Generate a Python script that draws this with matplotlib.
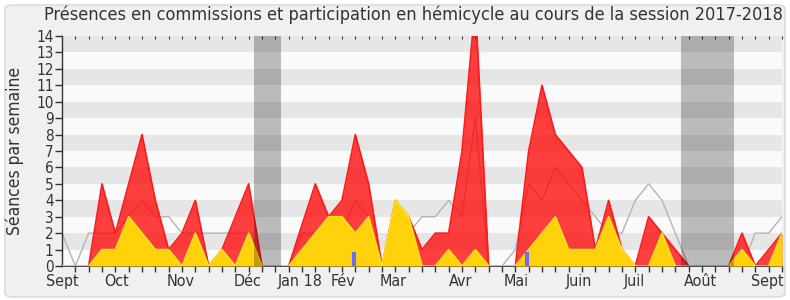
import matplotlib
matplotlib.use("Agg")
import matplotlib.pyplot as plt
from matplotlib.patches import FancyBboxPatch
import numpy as np

plt.rcParams["font.family"] = ["DejaVu Sans"]
plt.rcParams["font.stretch"] = "condensed"

# weekly values (index = week of the session)
presence_total = [0, 0, 0, 5, 2, 5, 8, 4, 1, 2, 4, 0, 1, 3, 5, 0, 0, 0, 2.5, 5,
                  3, 4, 8, 5, 0, 4, 3, 1, 2, 2, 7, 16, 0, 0, 0, 7, 11, 8, 7, 6,
                  1, 4, 1, 0, 3, 2, 1, 0, 0, 0, 0, 2, 0, 1, 2]
hemicycle = [0, 0, 0, 1, 1, 3, 2, 1, 1, 0, 2, 0, 1, 0, 2, 0, 0, 0, 1, 2,
             3, 3, 2, 3, 0, 4, 3, 0, 0, 1, 0, 1, 0, 0, 0, 1, 2, 3, 1, 1,
             1, 3, 1, 0, 0, 2, 0, 0, 0, 0, 0, 1, 0, 0, 2]
median_line = [2, 0, 2, 2, 2, 3, 4, 3, 3, 2, 2, 2, 2, 2, 2, 0, 0, 0, 2, 2,
               2, 2, 4, 3, 0, 2, 2, 3, 3, 4, 3, 9, 0, 0, 1, 5, 4, 6, 5, 4,
               3, 2, 2, 4, 5, 4, 2, 0, 0, 0, 0, 0, 2, 2, 3]
question_weeks = [22, 35]
question_values = [0.85, 0.85]
vacation_start = [14.43, 46.43]
vacation_end = [16.43, 50.43]
month_labels = ["Sept", "Oct", "Nov", "Déc", "Jan 18", "Fév", "Mar", "Avr",
                "Mai", "Juin", "Juil", "Août", "Sept"]
month_pos = [0, 4.1, 8.9, 13.9, 17.9, 21.1, 24.8, 29.9, 34.1, 38.8, 42.9, 47.9, 52.9]

W, H = 790, 300
fig = plt.figure(figsize=(W / 100, H / 100), dpi=100)
fig.patch.set_facecolor("white")
bg = FancyBboxPatch((5 / W, 3 / H), 780 / W, 292 / H,
                    boxstyle="round,pad=0,rounding_size=0.012",
                    transform=fig.transFigure, facecolor="#f0f0f0",
                    edgecolor="#dcdcdc", linewidth=1.2, zorder=-10)
fig.patches.append(bg)

ax = fig.add_axes([62 / W, 34 / H, 720 / W, 230 / H])
ax.set_zorder(5)
ax.set_facecolor("#fafafa")
x = np.arange(len(presence_total))

for k in range(1, 14, 2):
    ax.axhspan(k, k + 1, color="#e6e6e6", lw=0, zorder=0)

ax.plot(x, median_line, color="#b4b4b4", lw=1, zorder=1)
ax.fill_between(x, presence_total, color="#ff0000", alpha=0.75, lw=0, zorder=2)
ax.plot(x, presence_total, color="#ff1a1a", lw=1.2, zorder=3)
ax.fill_between(x, hemicycle, color="#ffd20c", lw=0, zorder=4)
ax.plot(x, hemicycle, color="#ffe41a", lw=1.2, zorder=5)
ax.bar(np.array(question_weeks) - 0.25, question_values, width=0.3, align="edge",
       color="#6b6bff", zorder=6)
for s, e in zip(vacation_start, vacation_end):
    ax.axvspan(s, e, color="black", alpha=0.25, lw=0, zorder=7)

ax.set_xlim(0, 54)
ax.set_ylim(0, 14)
ax.set_yticks(range(0, 15))
ax.tick_params(axis="y", length=5, width=1, color="#333333", labelsize=11,
               labelcolor="#333333", pad=1)
ax.set_xticks(x[1:])
ax.set_xticklabels([])
ax.tick_params(axis="x", which="major", length=4, width=1, color="#333333",
               top=True, direction="out")
ax.set_xticks(month_pos, minor=True)
ax.set_xticklabels(month_labels, minor=True)
ax.tick_params(axis="x", which="minor", length=0, labelsize=11.5,
               labelcolor="#333333", pad=5.5)
for t in ax.xaxis.get_major_ticks():
    t.tick2line.set_markersize(2)
    t.tick2line.set_markeredgewidth(0.8)
    t.tick2line.set_marker(3)

for side in ["top", "right"]:
    ax.spines[side].set_visible(False)
ax.spines["left"].set_color("#333333")
ax.spines["bottom"].set_color("#333333")
ax.spines["left"].set_linewidth(1)
ax.spines["bottom"].set_linewidth(1.2)

ax.set_ylabel("Séances par semaine", fontsize=12.5, color="#333333", labelpad=9)
fig.text(413 / W, 1 - 15 / H, "Présences en commissions et participation en hémicycle au cours de la session 2017-2018",
         ha="center", va="center", fontsize=13, color="#333333")

fig.savefig("out.png", dpi=100, facecolor=fig.get_facecolor())
